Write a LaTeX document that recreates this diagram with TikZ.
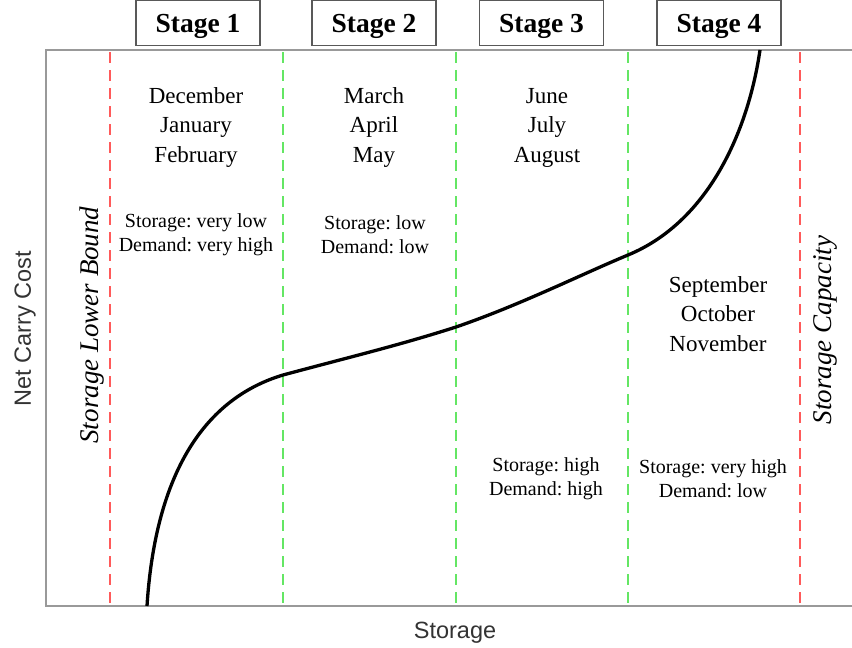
\documentclass[tikz,border=0pt]{standalone}
\usepackage{fontspec}
\setmainfont{Liberation Serif}
\setsansfont{Liberation Sans}
\frenchspacing
\begin{document}
\begin{tikzpicture}[x=1pt,y=-1pt,
  stagebox/.style={draw=black!65,line width=1.3pt,fill=white,minimum width=124pt,minimum height=45pt,inner sep=0pt,text height=19pt,text depth=0pt,font=\fontsize{27.5}{30}\selectfont\bfseries},
  months/.style={align=center,inner sep=0pt,font=\fontsize{23}{29.5}\selectfont},
  sd/.style={align=center,inner sep=0pt,font=\fontsize{20}{24}\selectfont},
  bound/.style={rotate=90,inner sep=0pt,font=\fontsize{27}{30}\selectfont\itshape},
  axlabel/.style={inner sep=0pt,font=\fontsize{23.5}{26}\selectfont\sffamily,text=black!80},
  axisline/.style={draw=black!40,line width=2pt},
  reddash/.style={draw={rgb,255:red,255;green,90;blue,90},line width=1.8pt,dash pattern=on 11pt off 7pt},
  greendash/.style={draw={rgb,255:red,100;green,230;blue,100},line width=1.8pt,dash pattern=on 11pt off 7pt},
  curve/.style={draw=black,line width=3.3pt}
]
\useasboundingbox (0,0) rectangle (852,648);
% axes
\coordinate (tl) at (46,50);
\coordinate (tr) at (852,50);
\coordinate (bl) at (46,606);
\coordinate (br) at (852,606);
\draw[axisline] (tr) -- (tl) -- (bl) -- (br);
% dashed lines
\coordinate (r1t) at (110,52); \coordinate (r1b) at (110,605);
\coordinate (g1t) at (283,52); \coordinate (g1b) at (283,605);
\coordinate (g2t) at (456,52); \coordinate (g2b) at (456,605);
\coordinate (g3t) at (628,52); \coordinate (g3b) at (628,605);
\coordinate (r2t) at (800,52); \coordinate (r2b) at (800,605);
\draw[reddash] (r1t) -- (r1b);
\draw[greendash] (g1t) -- (g1b);
\draw[greendash] (g2t) -- (g2b);
\draw[greendash] (g3t) -- (g3b);
\draw[reddash] (r2t) -- (r2b);
% curve
\coordinate (c0) at (147,606);
\coordinate (c1) at (283,375);
\coordinate (c2) at (456,327);
\coordinate (c3) at (628,255);
\coordinate (c4) at (760,50);
\draw[curve] (c0) .. controls (155,480) and (200,400) .. (c1)
  .. controls (350,357) and (400,345) .. (c2)
  .. controls (520,305) and (580,275) .. (c3)
  .. controls (708,222) and (748,132) .. (c4);
% stage boxes
\node[stagebox] (s1) at (198,23) {Stage 1};
\node[stagebox] (s2) at (374,23) {Stage 2};
\node[stagebox] (s3) at (541.5,23) {Stage 3};
\node[stagebox] (s4) at (719,23) {Stage 4};
% months
\node[months] (m1) at (196,127.5) {December\\January\\February};
\node[months] (m2) at (374,127.5) {March\\April\\May};
\node[months] (m3) at (547,127.5) {June\\July\\August};
\node[months] (m4) at (718,314) {September\\October\\November};
% storage/demand
\node[sd] (d1) at (196,235) {Storage: very low\\Demand: very high};
\node[sd] (d2) at (375,235) {Storage: low\\Demand: low};
\node[sd] (d3) at (546,479) {Storage: high\\Demand: high};
\node[sd] (d4) at (713,479) {Storage: very high\\Demand: low};
% bounds
\node[bound] (lb) at (92,325) {Storage Lower Bound};
\node[bound] (cap) at (825,330) {Storage Capacity};
% axis labels
\node[axlabel,rotate=90] (ylab) at (25,329) {Net Carry Cost};
\node[axlabel] (xlab) at (455,633) {Storage};
\end{tikzpicture}
\end{document}
